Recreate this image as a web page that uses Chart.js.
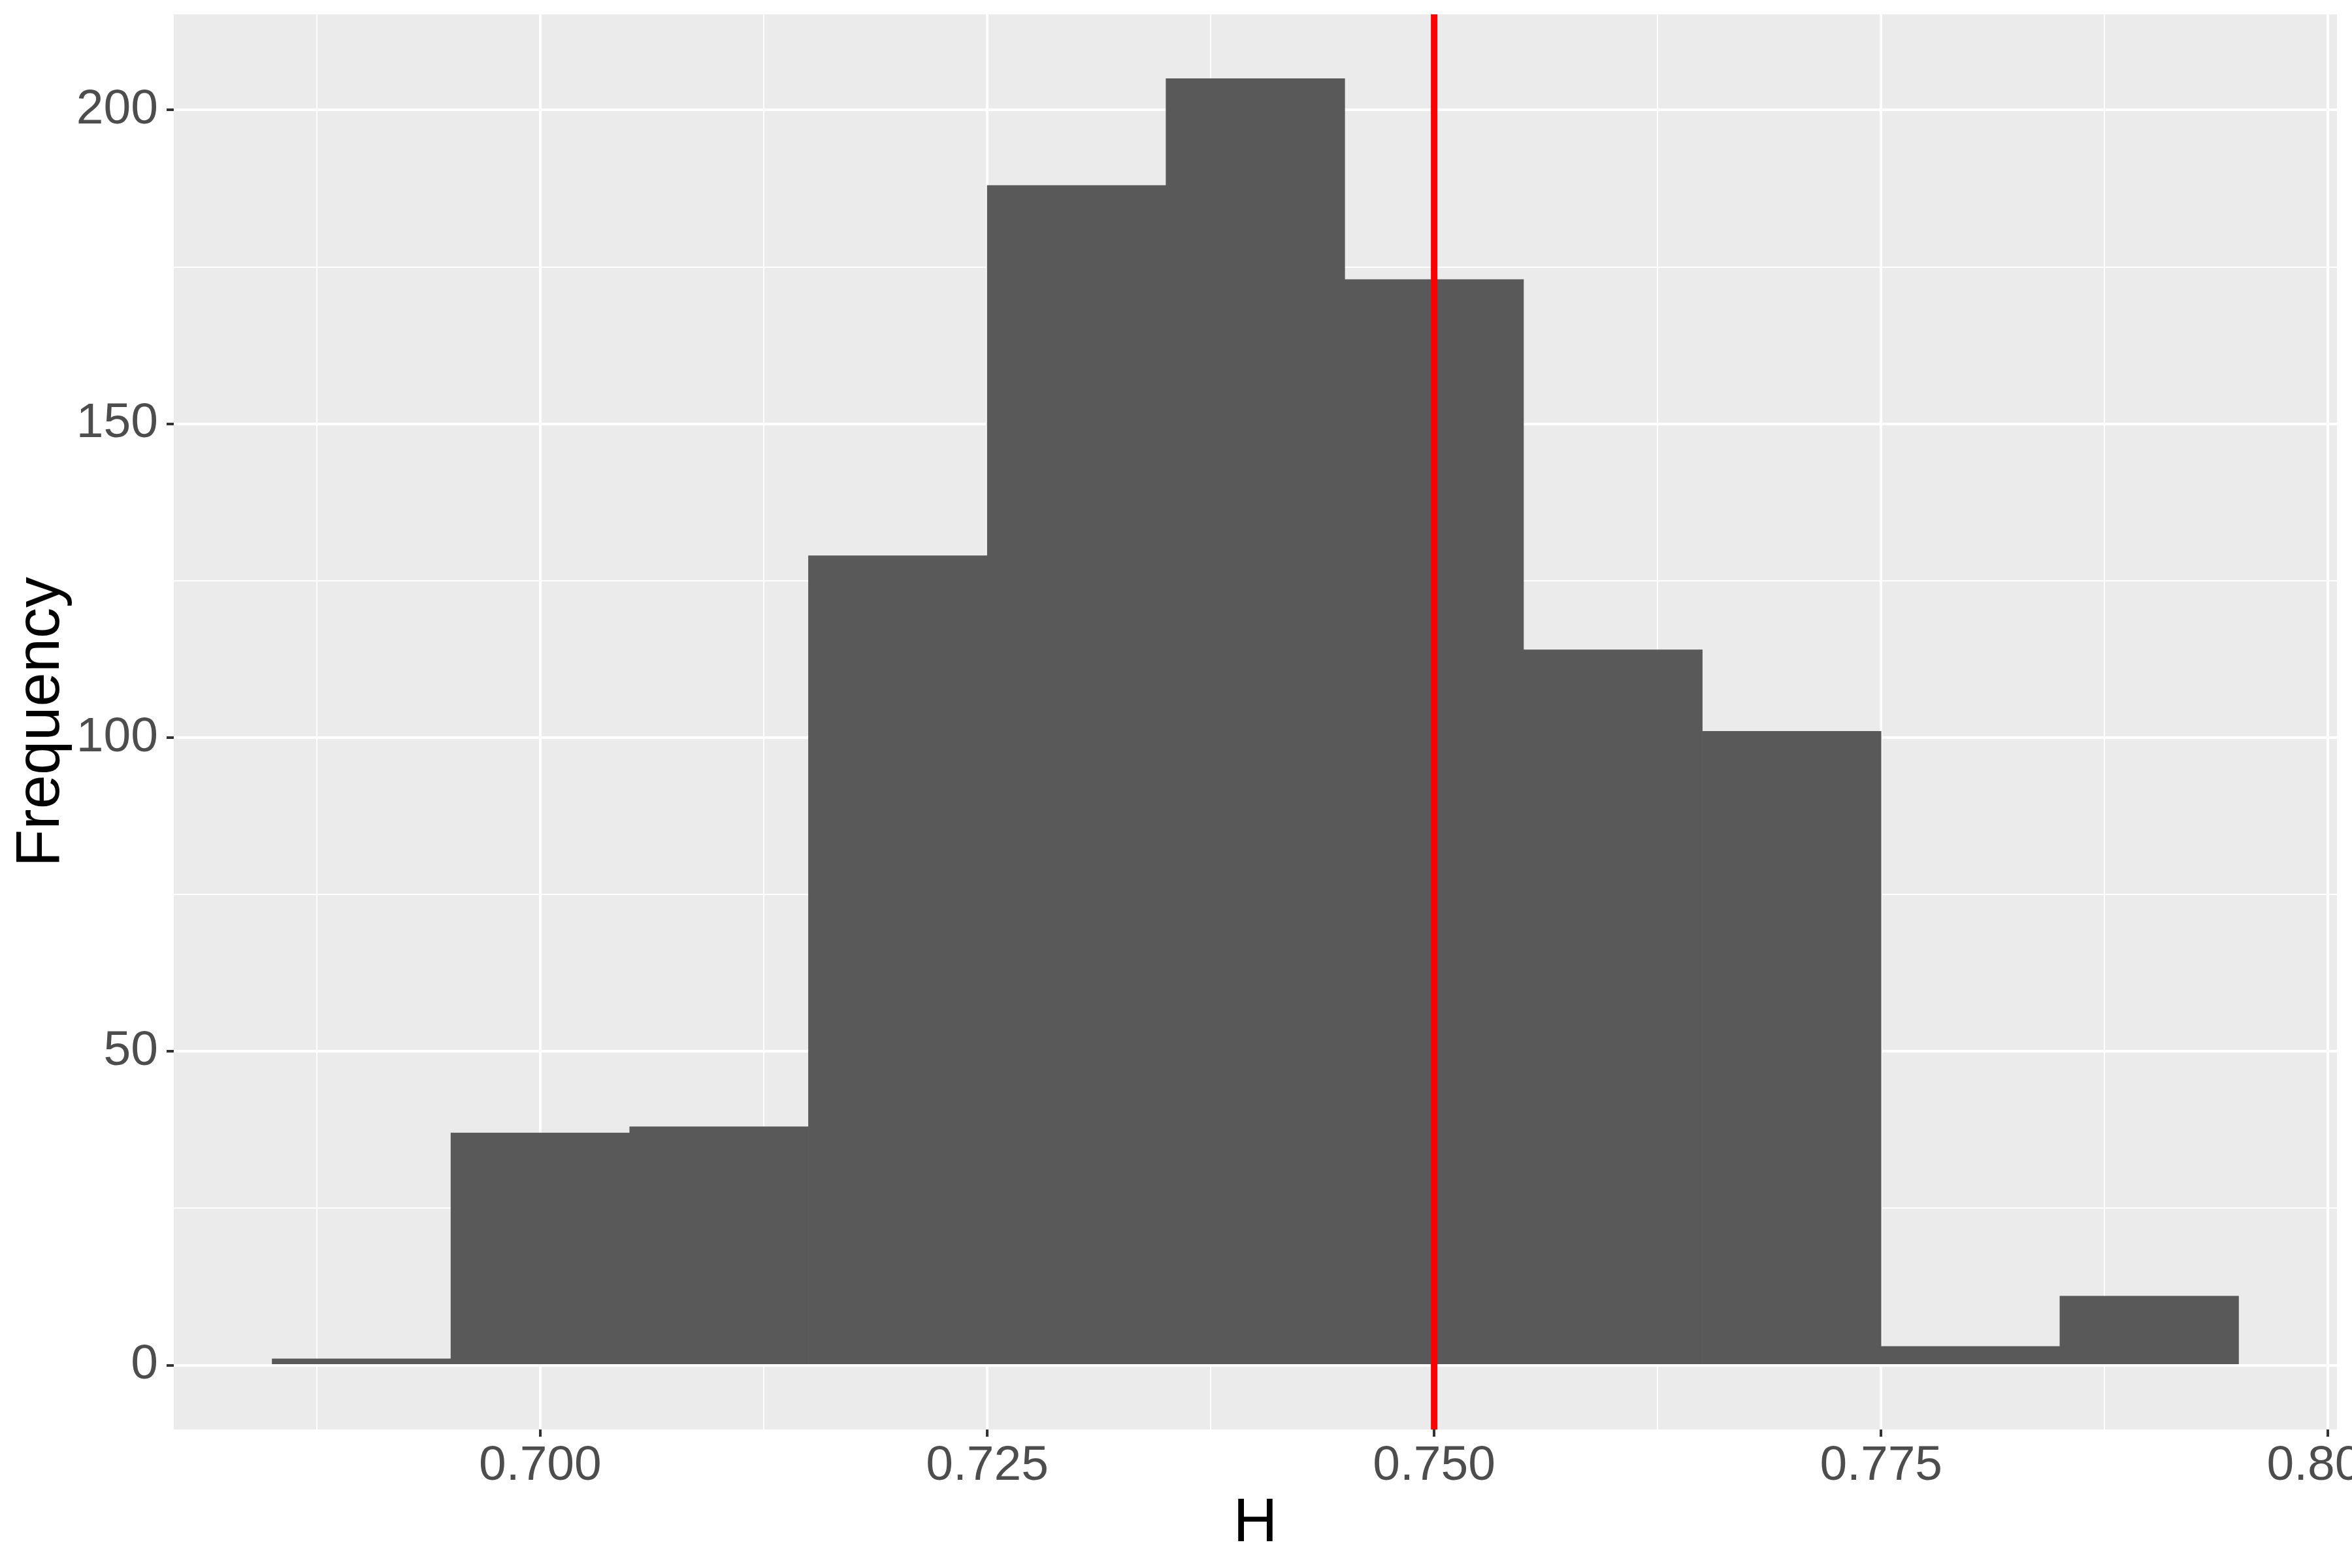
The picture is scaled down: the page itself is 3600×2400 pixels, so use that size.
<!DOCTYPE html>
<html>
<head>
<meta charset="utf-8">
<script src="https://cdn.jsdelivr.net/npm/chart.js"></script>
<style>
  html, body { margin: 0; padding: 0; background: #ffffff; overflow: hidden; }
  #wrap { width: 3600px; height: 2400px; }
</style>
</head>
<body>
<div id="wrap"><canvas id="chart" width="3600" height="2400"></canvas></div>
<script>
// histogram of H, bins are 0.01 wide, given by their centres
const binCenters = [0.69, 0.70, 0.71, 0.72, 0.73, 0.74, 0.75, 0.76, 0.77, 0.78, 0.79];
const counts = [1, 37, 38, 129, 188, 205, 173, 114, 101, 3, 11];

// red reference line
const refH = 0.75;

// tick labels (major) and minor grid positions
const xTicks = [0.700, 0.725, 0.750, 0.775, 0.800];
const xMinorTicks = [0.6875, 0.7125, 0.7375, 0.7625, 0.7875];
const yTicks = [0, 50, 100, 150, 200];
const yMinorTicks = [25, 75, 125, 175];

// axis limits (data range + 5% like ggplot)
const xMin = 0.6795, xMax = 0.8005;
const yMin = -10.25, yMax = 215.25;

Chart.defaults.font.family = '"Liberation Sans", Arial, sans-serif';

function isMajor(list, v) {
  return list.some(t => Math.abs(t - v) < 1e-9);
}

function allTicks(major, minor) {
  return major.concat(minor).sort((a, b) => a - b).map(v => ({ value: v }));
}

const barData = binCenters.map((c, i) => ({ x: c, y: counts[i] }));

const ctx = document.getElementById('chart');
const chart = new Chart(ctx, {
  type: 'bar',
  data: {
    datasets: [
      {
        type: 'line',
        data: [{ x: refH, y: yMin }, { x: refH, y: yMax }],
        borderColor: '#FF0000',
        borderWidth: 10,
        borderCapStyle: 'butt',
        pointRadius: 0,
        order: 0
      },
      {
        type: 'bar',
        data: barData,
        backgroundColor: '#595959',
        borderWidth: 0,
        barPercentage: 1,
        categoryPercentage: 1,
        order: 1
      }
    ]
  },
  options: {
    responsive: false,
    animation: false,
    devicePixelRatio: 1,
    events: [],
    layout: { padding: { top: 22, right: 23, left: 0, bottom: 0 } },
    plugins: {
      legend: { display: false },
      tooltip: { enabled: false }
    },
    scales: {
      x: {
        type: 'linear',
        min: xMin,
        max: xMax,
        offset: false,
        afterBuildTicks: axis => { axis.ticks = allTicks(xTicks, xMinorTicks); },
        afterFit: axis => {
          axis.height = 212;
          axis.paddingLeft = 0;
          axis.paddingRight = 0;
        },
        border: { display: false },
        grid: {
          offset: false,
          color: '#FFFFFF',
          lineWidth: c => isMajor(xTicks, c.tick.value) ? 4 : 2,
          tickLength: 11,
          tickWidth: 4,
          tickColor: c => isMajor(xTicks, c.tick.value) ? '#333333' : 'rgba(0,0,0,0)'
        },
        ticks: {
          autoSkip: false,
          maxRotation: 0,
          minRotation: 0,
          padding: 8,
          color: '#4D4D4D',
          font: { size: 75, lineHeight: 1 },
          callback: v => isMajor(xTicks, v) ? v.toFixed(3) : ''
        },
        title: {
          display: true,
          text: 'H',
          color: '#000000',
          font: { size: 94 },
          padding: { top: 0, bottom: 11 }
        }
      },
      y: {
        min: yMin,
        max: yMax,
        afterBuildTicks: axis => { axis.ticks = allTicks(yTicks, yMinorTicks); },
        afterFit: axis => {
          axis.width = 266;
          axis.paddingTop = 0;
          axis.paddingBottom = 0;
        },
        border: { display: false },
        grid: {
          color: '#FFFFFF',
          lineWidth: c => isMajor(yTicks, c.tick.value) ? 4 : 2,
          tickLength: 11,
          tickWidth: 4,
          tickColor: c => isMajor(yTicks, c.tick.value) ? '#333333' : 'rgba(0,0,0,0)'
        },
        ticks: {
          autoSkip: false,
          padding: 13,
          color: '#4D4D4D',
          font: { size: 75 },
          callback: v => isMajor(yTicks, v) ? String(v) : ''
        },
        title: {
          display: true,
          text: 'Frequency',
          color: '#000000',
          font: { size: 94 },
          padding: { top: 8, bottom: 0 }
        }
      }
    }
  },
  plugins: [{
    id: 'panelBg',
    beforeDraw: c => {
      const a = c.chartArea;
      c.ctx.save();
      c.ctx.fillStyle = '#EBEBEB';
      c.ctx.fillRect(a.left, a.top, a.right - a.left, a.bottom - a.top);
      c.ctx.restore();
    }
  }]
});
</script>
</body>
</html>
